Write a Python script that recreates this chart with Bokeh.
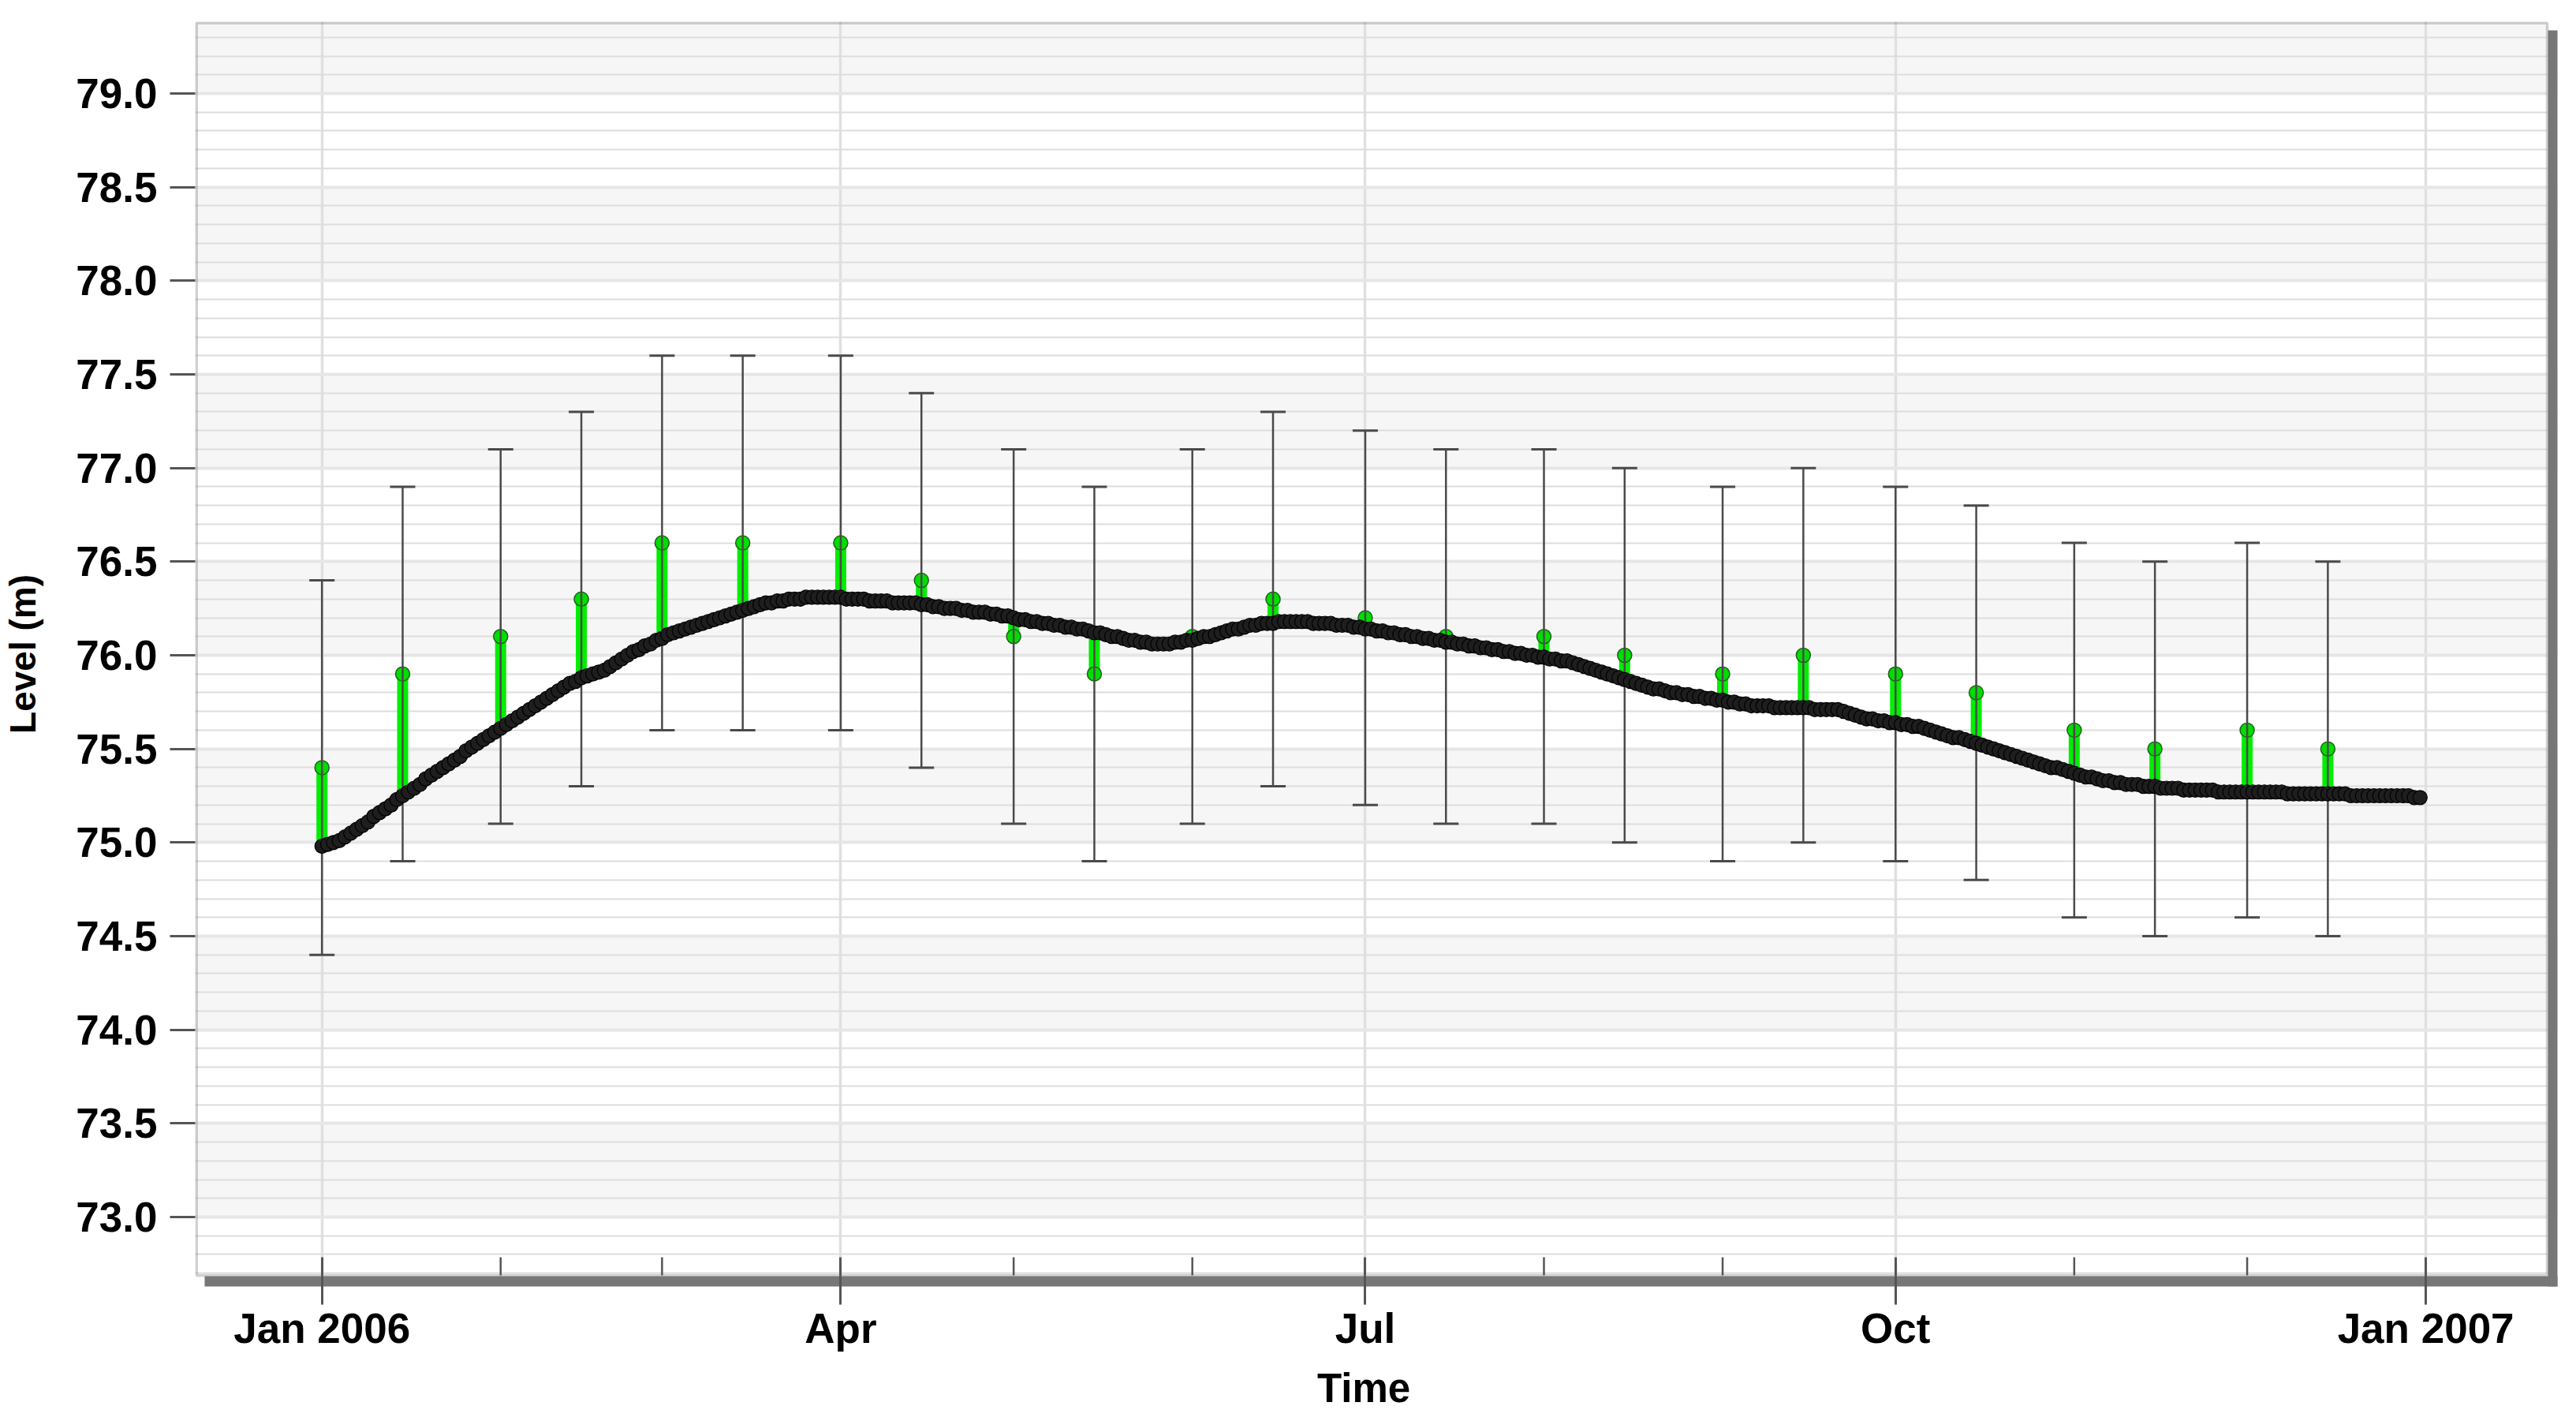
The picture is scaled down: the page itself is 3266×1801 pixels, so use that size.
import numpy as np
import pandas as pd
from bokeh.plotting import figure
from bokeh.models import (FixedTicker, SingleIntervalTicker, PrintfTickFormatter,
                          BoxAnnotation, Range1d, ColumnDataSource, Title)
from bokeh.embed import file_html
from bokeh.resources import INLINE

# ---------------- data ----------------
model_jan = [74.98, 74.99, 75.00, 75.01, 75.03, 75.05, 75.07, 75.09, 75.11, 75.14,
             75.16, 75.18, 75.20, 75.23, 75.25, 75.27, 75.29, 75.31, 75.34, 75.36,
             75.38, 75.40, 75.42, 75.44, 75.46, 75.49, 75.51, 75.53, 75.55, 75.57,
             75.59]
model_feb = [75.61, 75.63, 75.65, 75.67, 75.69, 75.71, 75.73, 75.75, 75.77, 75.79,
             75.81, 75.83, 75.85, 75.86, 75.88, 75.89, 75.90, 75.91, 75.92, 75.94,
             75.96, 75.98, 76.00, 76.02, 76.03, 76.05, 76.06, 76.08]
model_mar = [76.09, 76.11, 76.12, 76.13, 76.14, 76.15, 76.16, 76.17, 76.18, 76.19,
             76.20, 76.21, 76.22, 76.23, 76.24, 76.25, 76.26, 76.27, 76.28, 76.28,
             76.29, 76.29, 76.30, 76.30, 76.30, 76.31, 76.31, 76.31, 76.31, 76.31,
             76.31]
model_apr = [76.31, 76.30, 76.30, 76.30, 76.30, 76.29, 76.29, 76.29, 76.29, 76.28,
             76.28, 76.28, 76.28, 76.28, 76.27, 76.27, 76.26, 76.26, 76.25, 76.25,
             76.25, 76.24, 76.24, 76.23, 76.23, 76.23, 76.22, 76.22, 76.21, 76.21]
model_may = [76.20, 76.19, 76.19, 76.18, 76.18, 76.17, 76.17, 76.16, 76.16, 76.15,
             76.15, 76.14, 76.14, 76.13, 76.12, 76.12, 76.11, 76.10, 76.10, 76.09,
             76.08, 76.08, 76.07, 76.07, 76.06, 76.06, 76.06, 76.06, 76.07, 76.07,
             76.08]
model_jun = [76.08, 76.09, 76.10, 76.10, 76.11, 76.12, 76.13, 76.14, 76.14, 76.15,
             76.16, 76.16, 76.17, 76.17, 76.17, 76.18, 76.18, 76.18, 76.18, 76.18,
             76.18, 76.17, 76.17, 76.17, 76.17, 76.16, 76.16, 76.16, 76.15, 76.15]
model_jul = [76.14, 76.14, 76.13, 76.13, 76.12, 76.12, 76.11, 76.11, 76.10, 76.10,
             76.09, 76.09, 76.08, 76.08, 76.07, 76.07, 76.06, 76.06, 76.05, 76.05,
             76.04, 76.04, 76.03, 76.03, 76.02, 76.02, 76.01, 76.01, 76.00, 76.00,
             75.99]
model_aug = [75.99, 75.98, 75.98, 75.97, 75.97, 75.96, 75.95, 75.94, 75.93, 75.92,
             75.91, 75.90, 75.89, 75.88, 75.87, 75.86, 75.85, 75.84, 75.83, 75.82,
             75.82, 75.81, 75.80, 75.80, 75.79, 75.79, 75.78, 75.78, 75.77, 75.77,
             75.76]
model_sep = [75.76, 75.75, 75.75, 75.74, 75.74, 75.73, 75.73, 75.73, 75.73, 75.72,
             75.72, 75.72, 75.72, 75.72, 75.72, 75.72, 75.71, 75.71, 75.71, 75.71,
             75.71, 75.70, 75.69, 75.68, 75.67, 75.66, 75.66, 75.65, 75.65, 75.64]
model_oct = [75.64, 75.63, 75.63, 75.62, 75.62, 75.61, 75.60, 75.59, 75.58, 75.57,
             75.56, 75.56, 75.55, 75.54, 75.53, 75.52, 75.51, 75.50, 75.49, 75.48,
             75.47, 75.46, 75.45, 75.44, 75.43, 75.42, 75.41, 75.40, 75.40, 75.39,
             75.38]
model_nov = [75.37, 75.36, 75.35, 75.35, 75.34, 75.33, 75.33, 75.32, 75.32, 75.31,
             75.31, 75.31, 75.30, 75.30, 75.30, 75.29, 75.29, 75.29, 75.29, 75.28,
             75.28, 75.28, 75.28, 75.28, 75.28, 75.27, 75.27, 75.27, 75.27, 75.27]
model_dec = [75.27, 75.27, 75.27, 75.27, 75.27, 75.27, 75.27, 75.26, 75.26, 75.26,
             75.26, 75.26, 75.26, 75.26, 75.26, 75.26, 75.26, 75.26, 75.25, 75.25,
             75.25, 75.25, 75.25, 75.25, 75.25, 75.25, 75.25, 75.25, 75.25, 75.24,
             75.24]
model_start = "2006-01-01"

obs_dates = ["2006-01-01", "2006-01-15", "2006-02-01", "2006-02-15",
             "2006-03-01", "2006-03-15", "2006-04-01", "2006-04-15",
             "2006-05-01", "2006-05-15", "2006-06-01", "2006-06-15",
             "2006-07-01", "2006-07-15", "2006-08-01", "2006-08-15",
             "2006-09-01", "2006-09-15", "2006-10-01", "2006-10-15",
             "2006-11-01", "2006-11-15", "2006-12-01", "2006-12-15"]
obs_level = [75.4, 75.9, 76.1, 76.3, 76.6, 76.6, 76.6, 76.4, 76.1, 75.9, 76.1, 76.3,
             76.2, 76.1, 76.1, 76.0, 75.9, 76.0, 75.9, 75.8, 75.6, 75.5, 75.6, 75.5]
obs_lower = [74.4, 74.9, 75.1, 75.3, 75.6, 75.6, 75.6, 75.4, 75.1, 74.9, 75.1, 75.3,
             75.2, 75.1, 75.1, 75.0, 74.9, 75.0, 74.9, 74.8, 74.6, 74.5, 74.6, 74.5]
obs_upper = [76.4, 76.9, 77.1, 77.3, 77.6, 77.6, 77.6, 77.4, 77.1, 76.9, 77.1, 77.3,
             77.2, 77.1, 77.1, 77.0, 76.9, 77.0, 76.9, 76.8, 76.6, 76.5, 76.6, 76.5]

major_tick_dates = ["2006-01-01", "2006-04-01", "2006-07-01", "2006-10-01", "2007-01-01"]
major_tick_labels = ["Jan 2006", "Apr", "Jul", "Oct", "Jan 2007"]
minor_tick_dates = ["2006-02-01", "2006-03-01", "2006-05-01", "2006-06-01",
                    "2006-08-01", "2006-09-01", "2006-11-01", "2006-12-01"]

x_title = "Time"
y_title = "Level (m)"

# ---------------- build ----------------
model_level = (model_jan + model_feb + model_mar + model_apr + model_may + model_jun +
               model_jul + model_aug + model_sep + model_oct + model_nov + model_dec)
model_dates = pd.date_range(model_start, periods=len(model_level), freq="D")
model_series = pd.Series(model_level, index=model_dates)

obs_dt = pd.to_datetime(obs_dates)
model_at_obs = model_series.loc[obs_dt].values

T0 = pd.Timestamp(model_start)


def ms(d):
    return float(pd.Timestamp(d).value // 10**6)


# ---- page geometry (pixels) and pixel -> data helpers (styling only) ----
PX_PER_DAY = 7.308
X_ORIGIN = 405.7
PX_PER_M = 237.33
Y_REF_PX, Y_REF = 118.0, 79.0

FRAME_L, FRAME_T, FRAME_R, FRAME_B = 245, 27, 3240, 1630   # bokeh frame (incl. shadow)
BORDER_R, BORDER_B = 3227, 1616                            # visible plot border
SHADOW_TOP, SHADOW_LEFT = 38, 257
BW = 3.5
X_TITLE_CENTER = 1727


def xd(px):
    return ms(T0 + pd.Timedelta(days=(px - X_ORIGIN) / PX_PER_DAY))


def yd(py):
    return Y_REF - (py - Y_REF_PX) / PX_PER_M


FONT = "Liberation Sans"

p = figure(frame_width=FRAME_R - FRAME_L, frame_height=FRAME_B - FRAME_T,
           x_axis_type="datetime",
           x_range=Range1d(xd(FRAME_L), xd(FRAME_R)),
           y_range=Range1d(yd(FRAME_B), yd(FRAME_T)),
           output_backend="svg", toolbar_location=None,
           min_border_left=FRAME_L, min_border_top=FRAME_T,
           min_border_right=18, min_border_bottom=100)

p.background_fill_color = "white"
p.border_fill_color = "white"
p.outline_line_color = None

# alternating horizontal bands (under the grid lines)
band_bottoms = [float(b) for b in np.arange(73.0, 79.5, 1.0)]
band_src = ColumnDataSource(dict(
    left=[xd(FRAME_L - 5)] * len(band_bottoms), right=[xd(FRAME_R + 5)] * len(band_bottoms),
    bottom=band_bottoms, top=[b + 0.5 for b in band_bottoms]))
p.quad(left="left", right="right", bottom="bottom", top="top", source=band_src,
       fill_color="#f6f6f6", line_color=None, level="image")

# grids
yt = SingleIntervalTicker(interval=0.5, num_minor_ticks=5)
p.yaxis.ticker = yt
p.ygrid.ticker = yt
p.ygrid.grid_line_color = "#e6e6e6"
p.ygrid.grid_line_width = 4
p.ygrid.minor_grid_line_color = "#dddddd"
p.ygrid.minor_grid_line_width = 2

major_ms = [ms(d) for d in major_tick_dates]
minor_ms = [ms(d) for d in minor_tick_dates]
p.xaxis.ticker = FixedTicker(ticks=major_ms)
p.xgrid.ticker = FixedTicker(ticks=major_ms)
p.xgrid.grid_line_color = "#e0e0e0"
p.xgrid.grid_line_width = 3.5
p.xaxis.major_label_overrides = {m: lab for m, lab in zip(major_ms, major_tick_labels)}

# white strips outside the visible border, then the drop shadow (glyphs)
deco_src = ColumnDataSource(dict(
    left=[xd(BORDER_R), xd(FRAME_L - 5), xd(BORDER_R + 1), xd(SHADOW_LEFT)],
    right=[xd(FRAME_R + 5)] * 4,
    top=[yd(FRAME_T - 5), yd(BORDER_B), yd(SHADOW_TOP), yd(BORDER_B + 1)],
    bottom=[yd(FRAME_B + 5)] * 4,
    color=["white", "white", "#777777", "#777777"]))
p.quad(left="left", right="right", bottom="bottom", top="top", source=deco_src,
       fill_color="color", line_color=None)

# axes styling
for ax in (p.xaxis[0], p.yaxis[0]):
    ax.axis_line_color = None
    ax.major_label_text_font = FONT
    ax.major_label_text_font_style = "bold"
    ax.major_label_text_font_size = "53px"
    ax.major_label_text_color = "black"
    ax.axis_label_text_font = FONT
    ax.axis_label_text_font_style = "bold"
    ax.axis_label_text_color = "black"
    ax.major_tick_line_color = "#555555"
    ax.major_tick_line_width = 3

p.xaxis.major_tick_in = (FRAME_B - BORDER_B) + 23
p.xaxis.major_tick_out = 23
p.xaxis.minor_tick_line_color = None
p.xaxis.major_label_standoff = 0

p.yaxis.axis_label = y_title
p.yaxis.axis_label_text_font_size = "46px"
p.yaxis.formatter = PrintfTickFormatter(format="%.1f")
p.yaxis.major_tick_in = 0
p.yaxis.major_tick_out = 32
p.yaxis.minor_tick_line_color = None
p.yaxis.major_label_standoff = 16
p.yaxis.axis_label_standoff = 38

# x axis title, centred under the visible plot border
title_w = 119
p.add_layout(Title(text=x_title, align="left",
                   offset=X_TITLE_CENTER - FRAME_L - title_w / 2,
                   text_font=FONT, text_font_style="bold", text_font_size="51px",
                   text_color="black", standoff=26), "below")

# monthly minor ticks, inside the border only
mt_src = ColumnDataSource(dict(x=minor_ms, y0=[yd(BORDER_B)] * len(minor_ms),
                               y1=[yd(BORDER_B - 23)] * len(minor_ms)))
p.segment(x0="x", y0="y0", x1="x", y1="y1", source=mt_src,
          line_color="#555555", line_width=2.5)

# residual bars (model -> observation)
obs_src = ColumnDataSource(dict(x=obs_dt, obs=obs_level, model=model_at_obs,
                                lo=obs_lower, hi=obs_upper))
p.segment(x0="x", y0="model", x1="x", y1="obs", source=obs_src,
          line_color="#00ee00", line_width=14, line_cap="butt")
p.scatter(x="x", y="obs", source=obs_src, marker="circle", size=18,
          fill_color="#00dd00", line_color="#1f5f1f", line_width=1.5)

# error bars
p.segment(x0="x", y0="lo", x1="x", y1="hi", source=obs_src,
          line_color="#4a4a4a", line_width=2.5)
p.scatter(x="x", y="lo", source=obs_src, marker="dash", size=32,
          line_color="#4a4a4a", line_width=3)
p.scatter(x="x", y="hi", source=obs_src, marker="dash", size=32,
          line_color="#4a4a4a", line_width=3)

# model series
mod_src = ColumnDataSource(dict(x=model_dates, y=model_level))
p.line(x="x", y="y", source=mod_src, line_color="#111111", line_width=6)
p.scatter(x="x", y="y", source=mod_src, marker="circle", size=18,
          fill_color="#1e1e1e", line_color="#000000", line_width=1.2)

# visible plot border (drawn last, inset so it is not clipped)
p.add_layout(BoxAnnotation(left=xd(FRAME_L + BW / 2), right=xd(BORDER_R),
                           top=yd(FRAME_T + BW / 2), bottom=yd(BORDER_B),
                           fill_color=None, line_color="#666666", line_width=BW,
                           level="overlay"))

open("out.html", "w").write(file_html(p, INLINE))
